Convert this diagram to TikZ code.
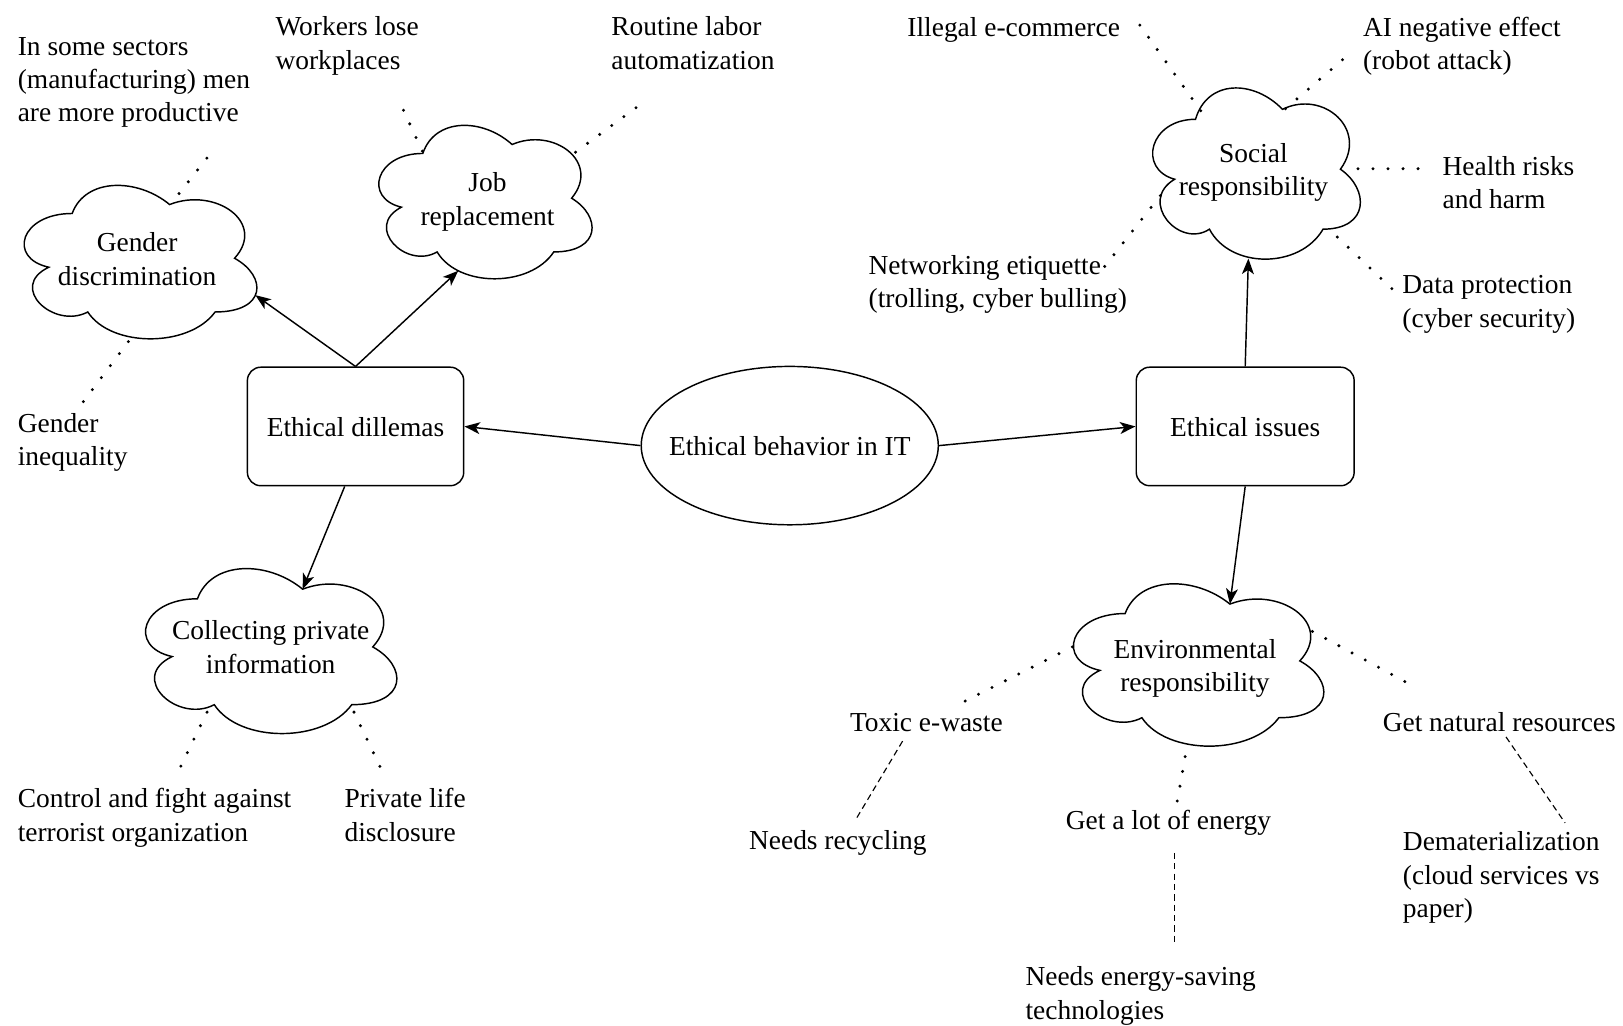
\documentclass[tikz,border=0pt]{standalone}
\usepackage{fontspec}
\setmainfont{Liberation Serif}
\usetikzlibrary{arrows.meta,shapes.geometric}
\newcommand\topstrut{\rule{0pt}{29.5pt}}
\newcommand\botstrut{\rule[-9.7pt]{0pt}{9.7pt}}
\newcommand\cloudshape[5]{%
  \begin{scope}[shift={(#1.center)},x=#2pt,y=-#3pt]
    \draw[olw] (-0.25,-0.25) .. controls (-0.45,-0.25) and (-0.5,0) .. (-0.34,0.05)
      .. controls (-0.5,0.16) and (-0.32,0.4) .. (-0.19,0.3)
      .. controls (-0.1,0.5) and (0.2,0.5) .. (0.3,0.3)
      .. controls (0.5,0.3) and (0.5,0.1) .. (0.375,0)
      .. controls (0.5,-0.2) and (0.3,-0.4) .. (0.125,-0.3)
      .. controls (0,-0.45) and (-0.2,-0.45) .. (-0.25,-0.25) -- cycle;
    \coordinate (#1-in) at (#4,#5);
  \end{scope}}
\begin{document}
\begin{tikzpicture}[x=1pt,y=-1pt,
  tx/.style={font=\fontsize{26.5pt}{32.2pt}\selectfont, inner sep=0pt,
    execute at begin node=\topstrut, execute at end node=\botstrut},
  lab/.style={tx, anchor=west, align=left},
  olw/.style={draw, line width=1.4pt},
  rbox/.style={tx, olw, rounded corners=13pt, minimum width=209pt, minimum height=114.5pt},
  oval/.style={tx, olw, ellipse, minimum width=287pt, minimum height=153pt},
  cloudnode/.style={ellipse, inner sep=0pt},
  cltext/.style={tx, align=center},
  arr/.style={line width=1.4pt, -{Stealth[length=15pt,width=11.5pt,inset=4pt]}},
  dotline/.style={line width=3.2pt, line cap=round, dash pattern=on 0pt off 14.5pt},
  dashline/.style={line width=1.1pt, dash pattern=on 6pt off 4pt},
]
\useasboundingbox (0,0) rectangle (1568,991);

% main nodes
\node[oval] (eb) at (763,430.5) {\makebox[0pt]{Ethical behavior in IT}};
\node[rbox] (ed) at (343.5,412) {Ethical dillemas};
\node[rbox, minimum width=210.5pt] (ei) at (1203,412) {Ethical issues};

% clouds
\node[cloudnode, minimum width=251pt, minimum height=173pt,
  label={[cltext, yshift=-5.5pt]center:Gender\\discrimination}] (gd) at (132.5,249.5) {};
\node[cloudnode, minimum width=230pt, minimum height=173pt,
  label={[cltext, yshift=-5.5pt, xshift=5pt]center:Job\\replacement}] (jr) at (466,191.5) {};
\node[cloudnode, minimum width=271pt, minimum height=186pt,
  label={[cltext, yshift=-5pt, xshift=3pt]center:Collecting private\\information}] (cp) at (258.5,625) {};
\node[cloudnode, minimum width=224pt, minimum height=193pt,
  label={[cltext, yshift=-5pt]center:Social\\responsibility}] (sr) at (1211,163.5) {};
\node[cloudnode, minimum width=270pt, minimum height=183pt,
  label={[cltext, yshift=-9.5pt]center:Environmental\\responsibility}] (er) at (1154.5,638.5) {};
\cloudshape{gd}{251}{173}{0.455}{0.206}
\cloudshape{jr}{230}{173}{-0.101}{0.405}
\cloudshape{cp}{271}{186}{0.125}{-0.3}
\cloudshape{sr}{224}{193}{-0.022}{0.447}
\cloudshape{er}{270}{183}{0.125}{-0.3}

% labels
\node[lab] (t1) at (17,81.8) {In some sectors\\(manufacturing) men\\are more productive};
\node[lab] (t2) at (266,46.4) {Workers lose\\workplaces};
\node[lab] (t3) at (590.5,46.4) {Routine labor\\automatization};
\node[lab] (t4) at (17,429.5) {Gender\\inequality};
\node[lab] (t5) at (17,792) {Control and fight against\\terrorist organization};
\node[lab] (t6) at (332.7,792) {Private life\\disclosure};
\node[lab] (t7) at (876.5,25.5) {Illegal e-commerce};
\node[lab] (t8) at (1316.7,46.4) {AI negative effect\\(robot attack)};
\node[lab] (t9) at (1393.5,181.3) {Health risks\\and harm};
\node[lab] (t10) at (839,276.5) {Networking etiquette\\(trolling, cyber bulling)};
\node[lab] (t11) at (1354.7,296) {Data protection\\(cyber security)};
\node[lab] (t12) at (821,696.7) {Toxic e-waste};
\node[lab] (t13) at (1335.7,696.7) {Get natural resources};
\node[lab] (t14) at (723.5,811) {Needs recycling};
\node[lab] (t15) at (1029.6,791.7) {Get a lot of energy};
\node[lab] (t16) at (1355.2,849.9) {Dematerialization\\(cloud services vs\\paper)};
\node[lab] (t17) at (990.6,964.2) {Needs energy-saving\\technologies};

% arrows
\draw[arr] (eb.west) -- (ed.east);
\draw[arr] (eb.east) -- (ei.west);
\draw[arr] (ed.north) -- (gd-in);
\draw[arr] (ed.north) -- (jr-in);
\draw[arr] ([xshift=-10.5pt]ed.south) -- (cp-in);
\draw[arr] (ei.north) -- (sr-in);
\draw[arr] (ei.south) -- (er-in);

% dotted connectors
\draw[dotline] ([shift={(40.5,-62.5)}]gd.center) -- ([shift={(189,63.2)}]t1.west);
\draw[dotline] ([shift={(-8.5,80.5)}]gd.center) -- ([shift={(56,-31.5)}]t4.west);
\draw[dotline] ([shift={(-58,-45.5)}]jr.center) -- ([shift={(118,47.6)}]t2.west);
\draw[dotline] ([shift={(90,-44.5)}]jr.center) -- ([shift={(29.5,53.6)}]t3.west);
\draw[dotline] ([shift={(-58.5,63)}]cp.center) -- ([shift={(152,-40)}]t5.west);
\draw[dotline] ([shift={(83.5,63)}]cp.center) -- ([shift={(40.3,-39)}]t6.west);
\draw[dotline] ([shift={(-51,-56.5)}]sr.center) -- ([shift={(224.5,-1.5)}]t7.west);
\draw[dotline] ([shift={(31,-58.5)}]sr.center) -- ([shift={(-10.7,3.6)}]t8.west);
\draw[dotline] ([shift={(101,-0.5)}]sr.center) -- ([shift={(-15.5,-18.3)}]t9.west);
\draw[dotline] ([shift={(-90,25.5)}]sr.center) -- ([shift={(227,-17.5)}]t10.west);
\draw[dotline] ([shift={(81,65.5)}]sr.center) -- ([shift={(-5.7,-13)}]t11.west);
\draw[dotline] ([shift={(-118.5,-13.5)}]er.center) -- ([shift={(106,-16.7)}]t12.west);
\draw[dotline] ([shift={(113.5,-28.5)}]er.center) -- ([shift={(24.3,-36.7)}]t13.west);
\draw[dotline] ([shift={(-9.5,92.5)}]er.center) -- ([shift={(107.4,-15.7)}]t15.west);

% dashed connectors
\draw[dashline] ([shift={(51,19.3)}]t12.west) -- ([shift={(102.5,-18)}]t14.west);
\draw[dashline] ([shift={(105.4,32.3)}]t15.west) -- ([shift={(144.4,-54.2)}]t17.west);
\draw[dashline] ([shift={(119.3,15.3)}]t13.west) -- ([shift={(156.8,-54.9)}]t16.west);
\end{tikzpicture}
\end{document}
